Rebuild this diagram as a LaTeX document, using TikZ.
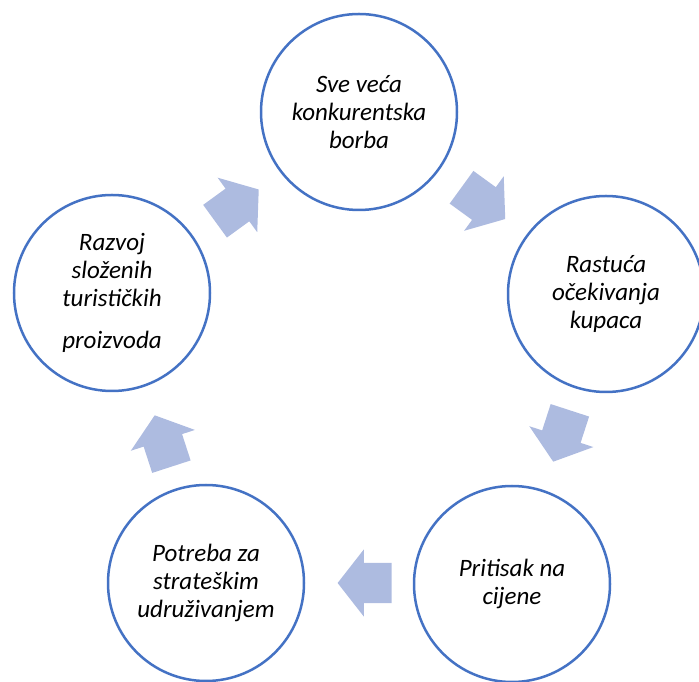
\documentclass[tikz,border=0pt]{standalone}
\usepackage{fontspec}
\setmainfont{Carlito}
\usetikzlibrary{shapes.arrows}
\definecolor{rub}{HTML}{4472C4}
\definecolor{strel}{RGB}{173,187,224}

\begin{document}
\begin{tikzpicture}[x=1pt, y=1pt,
		kr/.style={circle, draw=rub, line width=2.5pt, fill=white, minimum size=196pt, align=center, font=\fontsize{25}{28}\selectfont\itshape},
		str/.style={single arrow, fill=strel, draw=none, minimum height=54pt, single arrow head extend=13.5pt, single arrow tip angle=104, inner xsep=0pt, inner ysep=20pt}]
		\useasboundingbox (0,0) rectangle (699,682);

		\node[kr] (konk) at (359,570) {Sve veća\\ konkurentska\\ borba};
		\node[kr] (ocek) at (606,388) {Rastuća\\ očekivanja\\ kupaca};
		\node[kr] (cij) at (512,98) {Pritisak na\\ cijene};
		\node[kr] (udr) at (206,99) {Potreba za\\ strateškim\\ udruživanjem};
		\node[kr] (razv) at (112,389) {Razvoj\\ složenih\\ turističkih\\[14pt] proizvoda};

		\node[str, rotate=-36] (s1) at (477,483.5) {};
		\node[str, rotate=-108] (s2) at (564,253.5) {};
		\node[str, rotate=180] (s3) at (372.5,99) {};
		\node[str, rotate=108] (s4) at (165.5,233.5) {};
		\node[str, rotate=36] (s5) at (230.5,472) {};
	\end{tikzpicture}
\end{document}
